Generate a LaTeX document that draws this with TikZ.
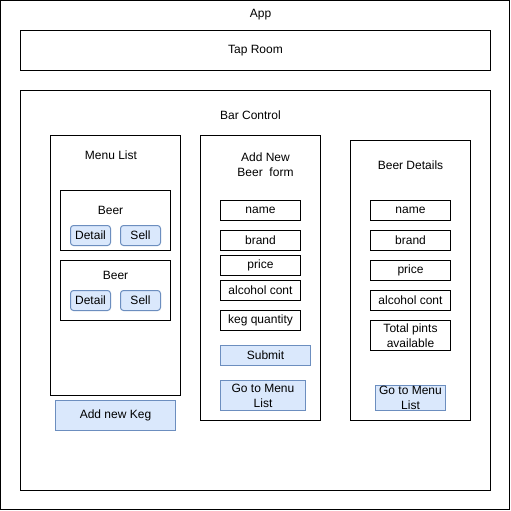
\documentclass[tikz,border=0pt]{standalone}
\usepackage{fontspec}
\setmainfont{Liberation Sans}
\definecolor{btnfill}{HTML}{DAE8FC}
\definecolor{btnline}{HTML}{6C8EBF}
\tikzset{
  frame/.style={draw=black, line width=1pt, fill=white, inner sep=0pt, outer sep=0pt,
    anchor=north west, align=center, font=\fontsize{12}{15}\selectfont},
  btn/.style={frame, draw=btnline, fill=btnfill},
  rbtn/.style={btn, rounded corners=3pt},
  lbl/.style={font=\fontsize{12}{15}\selectfont, align=center, inner sep=0pt}
}
\newcommand{\bx}[7][frame]{%
  \node[#1, minimum width=#5pt, minimum height=#6pt] (#2) at (#3,#4) {#7};}
\begin{document}
\begin{tikzpicture}[x=1pt,y=-1pt]
\useasboundingbox (0,0) rectangle (511,511);
% App
\bx{app}{0.5}{0.5}{509}{509}{}
\node[lbl] (applbl) at (260.5,15) {App};
% Tap Room
\bx{taproom}{20.5}{30.5}{470}{40}{Tap Room}
% Bar Control
\bx{barctl}{20.5}{90.5}{470}{400}{}
\node[lbl] (barlbl) at (250.5,115) {Bar Control};
% Menu List
\bx{menu}{50.5}{135.5}{130}{260}{}
\node[lbl] (menulbl) at (111,155) {Menu List};
\bx{beerA}{60.5}{190.5}{110}{60}{}
\node[lbl] (beerAlbl) at (110.5,210) {Beer};
\bx[rbtn]{detailA}{70.5}{225.5}{40}{20}{Detail}
\bx[rbtn]{sellA}{120.5}{225.5}{40}{20}{Sell}
\bx{beerB}{60.5}{260.5}{110}{60}{}
\node[lbl] (beerBlbl) at (115.5,275) {Beer};
\bx[rbtn]{detailB}{70.5}{290.5}{40}{20}{Detail}
\bx[rbtn]{sellB}{120.5}{290.5}{40}{20}{Sell}
\bx[btn]{addkeg}{55.5}{400.5}{120}{30}{Add new Keg}
% Add New Beer form
\bx{form}{200.5}{135.5}{120}{285}{}
\node[lbl] (formlbl) at (265.5,165) {Add New\\Beer\ \ form};
\bx{fname}{220.5}{200.5}{80}{20}{name}
\bx{fbrand}{220.5}{230.5}{80}{20}{brand}
\bx{fprice}{220.5}{255.5}{80}{20}{price}
\bx{falc}{220.5}{280.5}{80}{20}{alcohol cont}
\bx{fkeg}{220.5}{310.5}{80}{20}{keg quantity}
\bx[btn]{submit}{220.5}{345.5}{90}{20}{Submit}
\bx[btn]{fgo}{220.5}{380.5}{85}{30}{Go to Menu\\List}
% Beer Details
\bx{details}{350.5}{140.5}{120}{280}{}
\node[lbl] (detlbl) at (410.5,165) {Beer Details};
\bx{dname}{370.5}{200.5}{80}{20}{name}
\bx{dbrand}{370.5}{230.5}{80}{20}{brand}
\bx{dprice}{370.5}{260.5}{80}{20}{price}
\bx{dalc}{370.5}{290.5}{80}{20}{alcohol cont}
\bx{dpints}{370.5}{320.5}{80}{30}{Total pints\\available}
\bx[btn]{dgo}{375.5}{385.5}{70}{25}{Go to Menu\\List}
\end{tikzpicture}
\end{document}
